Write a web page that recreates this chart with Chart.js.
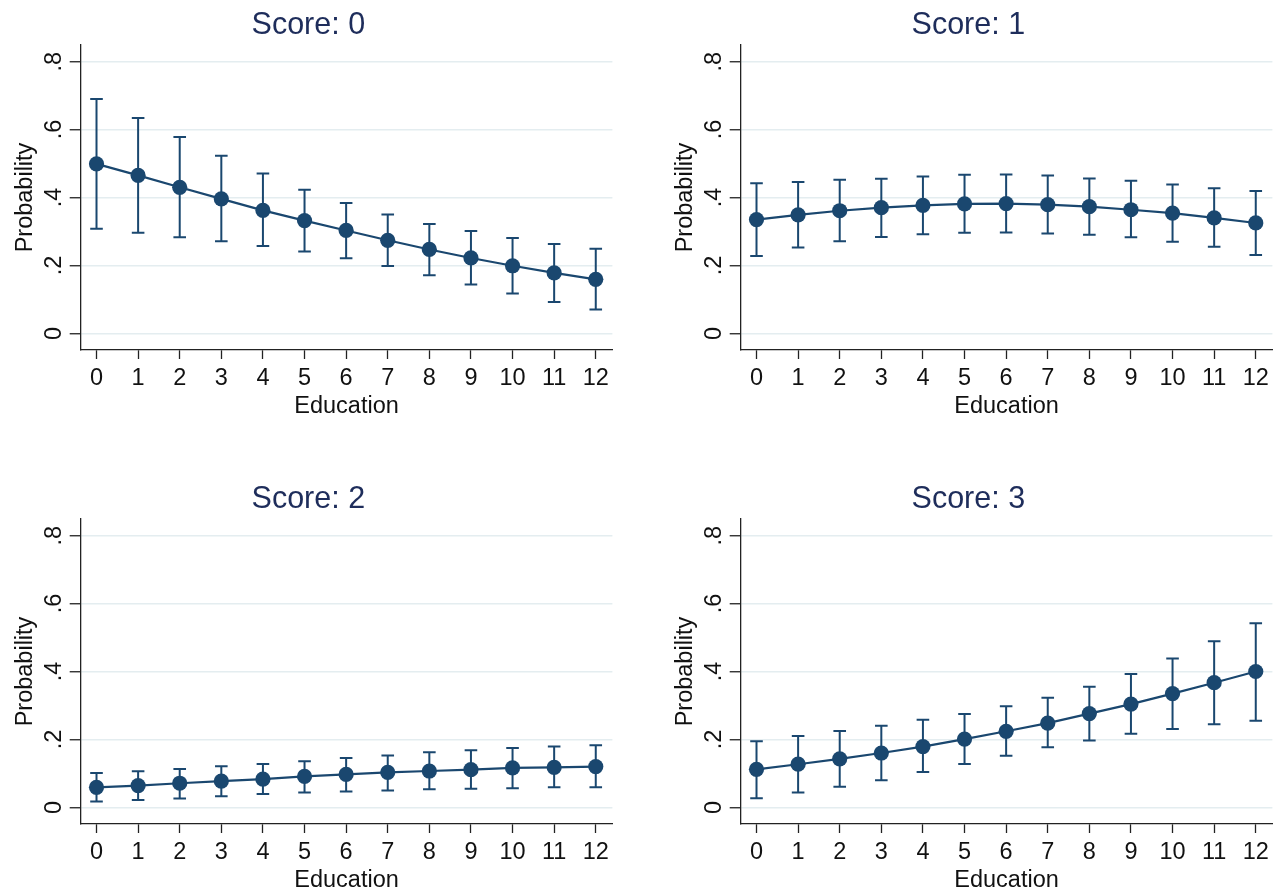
<!DOCTYPE html>
<html><head><meta charset="utf-8">
<script src="https://cdn.jsdelivr.net/npm/chart.js@4.4.1/dist/chart.umd.min.js"></script>
<style>
html,body{margin:0;padding:0;background:#fff;width:1282px;height:890px;overflow:hidden}
.panel{position:absolute;width:620px;height:417px}
canvas{display:block}
</style></head><body>
<div class="panel" style="left:0;top:0"><canvas id="c0" width="620" height="417"></canvas></div>
<div class="panel" style="left:660px;top:0"><canvas id="c1" width="620" height="417"></canvas></div>
<div class="panel" style="left:0;top:474px"><canvas id="c2" width="620" height="417"></canvas></div>
<div class="panel" style="left:660px;top:474px"><canvas id="c3" width="620" height="417"></canvas></div>
<script>
const education = [0,1,2,3,4,5,6,7,8,9,10,11,12];
const xTicks = [0,1,2,3,4,5,6,7,8,9,10,11,12];
const yTicks = [0,0.2,0.4,0.6,0.8];
const yTickLabels = ["0",".2",".4",".6",".8"];
const panelTitles = ["Score: 0","Score: 1","Score: 2","Score: 3"];

const score0Mean  = [0.499,0.465,0.430,0.396,0.362,0.332,0.303,0.274,0.247,0.222,0.199,0.178,0.159];
const score0Lower = [0.308,0.296,0.283,0.271,0.257,0.241,0.221,0.198,0.171,0.144,0.117,0.092,0.070];
const score0Upper = [0.690,0.634,0.578,0.523,0.471,0.423,0.384,0.350,0.322,0.301,0.281,0.263,0.249];

const score1Mean  = [0.335,0.349,0.361,0.370,0.377,0.381,0.382,0.379,0.373,0.364,0.354,0.340,0.325];
const score1Lower = [0.228,0.253,0.271,0.284,0.292,0.296,0.297,0.294,0.290,0.283,0.270,0.255,0.231];
const score1Upper = [0.442,0.446,0.452,0.455,0.462,0.467,0.468,0.465,0.456,0.449,0.438,0.427,0.419];

const score2Mean  = [0.059,0.064,0.071,0.077,0.083,0.091,0.097,0.103,0.107,0.111,0.116,0.118,0.120];
const score2Lower = [0.017,0.022,0.026,0.033,0.039,0.044,0.047,0.050,0.053,0.055,0.056,0.059,0.059];
const score2Upper = [0.101,0.106,0.113,0.121,0.128,0.136,0.145,0.153,0.162,0.168,0.175,0.179,0.183];

const score3Mean  = [0.112,0.127,0.143,0.160,0.179,0.201,0.224,0.248,0.276,0.304,0.335,0.367,0.400];
const score3Lower = [0.027,0.044,0.061,0.080,0.104,0.128,0.152,0.177,0.197,0.217,0.231,0.245,0.255];
const score3Upper = [0.195,0.210,0.225,0.240,0.258,0.275,0.298,0.323,0.355,0.393,0.438,0.489,0.542];

const means  = [score0Mean, score1Mean, score2Mean, score3Mean];
const lowers = [score0Lower, score1Lower, score2Lower, score3Lower];
const uppers = [score0Upper, score1Upper, score2Upper, score3Upper];

const NAVY = '#1a476f';
const AXIS = '#222222';
const GRID = '#e4edf0';
const FONT = '"Liberation Sans", Arial, Helvetica, sans-serif';

const errorBarPlugin = {
  id: 'errorBars',
  beforeDatasetsDraw(chart) {
    const ds = chart.data.datasets[0];
    const {ctx} = chart;
    const x = chart.scales.x, y = chart.scales.y;
    ctx.save();
    ctx.strokeStyle = NAVY;
    ctx.lineWidth = 2;
    const cap = 6.3;
    ds.errX.forEach((e, i) => {
      const px = x.getPixelForValue(e);
      const pl = y.getPixelForValue(ds.errLower[i]);
      const ph = y.getPixelForValue(ds.errUpper[i]);
      ctx.beginPath();
      ctx.moveTo(px, pl); ctx.lineTo(px, ph);
      ctx.moveTo(px - cap, pl); ctx.lineTo(px + cap, pl);
      ctx.moveTo(px - cap, ph); ctx.lineTo(px + cap, ph);
      ctx.stroke();
    });
    ctx.restore();
  }
};

for (let k = 0; k < 4; k++) {
  new Chart(document.getElementById('c' + k), {
    type: 'line',
    data: {
      datasets: [{
        data: education.map((e, i) => ({x: e, y: means[k][i]})),
        errX: education,
        errLower: lowers[k],
        errUpper: uppers[k],
        borderColor: NAVY,
        borderWidth: 2.2,
        backgroundColor: NAVY,
        pointRadius: 7.6,
        pointBorderWidth: 0,
        pointBackgroundColor: NAVY,
        tension: 0,
        fill: false
      }]
    },
    plugins: [errorBarPlugin],
    options: {
      responsive: false,
      animation: false,
      devicePixelRatio: 1,
      layout: {padding: {left: 0, right: 3.3, top: 0, bottom: 0}},
      plugins: {
        legend: {display: false},
        tooltip: {enabled: false},
        title: {
          display: true,
          text: panelTitles[k],
          color: '#1e2d5b',
          font: {family: FONT, size: 30.5, weight: 'normal', lineHeight: 1.2},
          padding: {top: 7, bottom: 1.4}
        }
      },
      scales: {
        x: {
          type: 'linear',
          min: -0.38,
          max: 12.4,
          afterBuildTicks: s => { s.ticks = xTicks.map(v => ({value: v})); },
          afterFit: s => { s.height = 67; s.paddingLeft = 0; s.paddingRight = 0; },
          ticks: {
            color: '#111',
            font: {family: FONT, size: 23.5, lineHeight: 1.2},
            padding: 5,
            maxRotation: 0,
            autoSkip: false
          },
          grid: {
            drawOnChartArea: false,
            drawTicks: true,
            tickLength: 9,
            tickColor: AXIS,
            tickWidth: 1.3
          },
          border: {display: true, color: AXIS, width: 1.3},
          title: {
            display: true,
            text: 'Education',
            color: '#111',
            font: {family: FONT, size: 23.5, lineHeight: 1.0},
            padding: {top: 0, bottom: -1}
          }
        },
        y: {
          type: 'linear',
          min: -0.049,
          max: 0.849,
          afterBuildTicks: s => { s.ticks = yTicks.map(v => ({value: v})); },
          afterFit: s => { s.width = 80.7; },
          ticks: {
            color: '#111',
            font: {family: FONT, size: 23.5, lineHeight: 1.2},
            minRotation: 90,
            maxRotation: 90,
            crossAlign: 'center',
            padding: 5,
            autoSkip: false,
            callback: (v) => { const i = yTicks.indexOf(v); return i >= 0 ? yTickLabels[i] : ''; }
          },
          grid: {
            color: GRID,
            lineWidth: 1.5,
            drawTicks: true,
            tickLength: 11,
            tickColor: AXIS,
            tickWidth: 1.3
          },
          border: {display: true, color: AXIS, width: 1.3},
          title: {
            display: true,
            text: 'Probability',
            color: '#111',
            font: {family: FONT, size: 23.5, lineHeight: 1.2},
            padding: {top: 11, bottom: 0}
          }
        }
      }
    }
  });
}
</script>
</body></html>
